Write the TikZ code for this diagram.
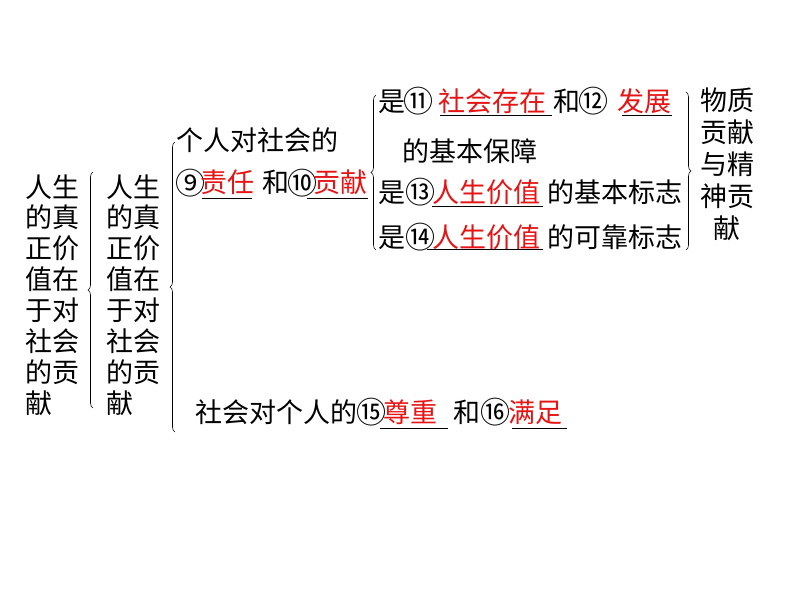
\documentclass[tikz,border=0pt]{standalone}
\usepackage{fontspec}
\newfontfamily\cjk{Noto Sans CJK SC}
\usetikzlibrary{decorations.pathreplacing}
\definecolor{hlred}{RGB}{230,20,20}
\begin{document}
\begin{tikzpicture}[x=1pt,y=-1pt,
  txt/.style={anchor=base west,inner sep=0pt,font=\cjk\fontsize{27}{31}\selectfont},
  ctxt/.style={txt,anchor=base},
  num/.style={txt,font=\cjk\fontsize{30}{34}\selectfont},
  hl/.style={txt,text=hlred},
  uline/.style={line width=0.8pt},
  brc/.style={decorate,decoration={brace,amplitude=5pt},line width=0.6pt}]
\useasboundingbox[fill=white] (0,0) rectangle (800,600);

% left columns
\foreach \t [count=\i] in {人生,的真,正价,值在,于对,社会,的贡,献}{
  \node[txt] (a\i) at (25,{197+30.9*(\i-1)}) {\t};
  \node[txt] (b\i) at (106,{197+30.9*(\i-1)}) {\t};
}

% braces
\draw[brc] (93,408) -- (93,172);
\draw[brc] (175,432) -- (175,142);
\draw[brc] (376,250) -- (376,95);
\draw[brc] (686,92) -- (686,250);

% individual to society
\node[txt] (p1) at (176,150) {个人对社会的};
\node[num] (n9) at (175,194) {⑨};
\node[hl]  (r1) at (200,192) {责任};
\node[txt] (h1) at (262,192) {和};
\node[num] (n10) at (287,194) {⑩};
\node[hl]  (r2) at (313,192) {贡献};
\draw[uline] (202,198) -- (252,198);
\draw[uline] (307,198) -- (368,198);

% right block
\node[txt] (s1) at (378,111) {是};
\node[num] (n11) at (403,112) {⑪};
\node[hl]  (r3) at (438,111) {社会存在};
\node[txt] (h2) at (553,111) {和};
\node[num] (n12) at (578,112) {⑫};
\node[hl]  (r4) at (617,111) {发展};
\draw[uline] (440,115) -- (552,115);
\draw[uline] (622,115) -- (672,115);

\node[txt] (s2) at (402,161) {的基本保障};

\node[txt] (s3) at (378,202) {是};
\node[num] (n13) at (405,203) {⑬};
\node[hl]  (r5) at (432,202) {人生价值};
\node[txt] (s3b) at (547,202) {的基本标志};
\draw[uline] (432,206) -- (543,206);

\node[txt] (s4) at (378,247) {是};
\node[num] (n14) at (405,248) {⑭};
\node[hl]  (r6) at (432,247) {人生价值};
\node[txt] (s4b) at (547,247) {的可靠标志};
\draw[uline] (427,249) -- (543,249);

% right column
\foreach \t [count=\i] in {物质,贡献,与精,神贡,献}{
  \node[ctxt] (c\i) at (727,{110+32*(\i-1)}) {\t};
}

% bottom
\node[txt] (q1) at (195,422) {社会对个人的};
\node[num] (n15) at (356,423) {⑮};
\node[hl]  (r7) at (383,422) {尊重};
\node[txt] (h3) at (453,422) {和};
\node[num] (n16) at (480,423) {⑯};
\node[hl]  (r8) at (508,422) {满足};
\draw[uline] (380,428) -- (448,428);
\draw[uline] (512,428) -- (567,428);
\end{tikzpicture}
\end{document}
